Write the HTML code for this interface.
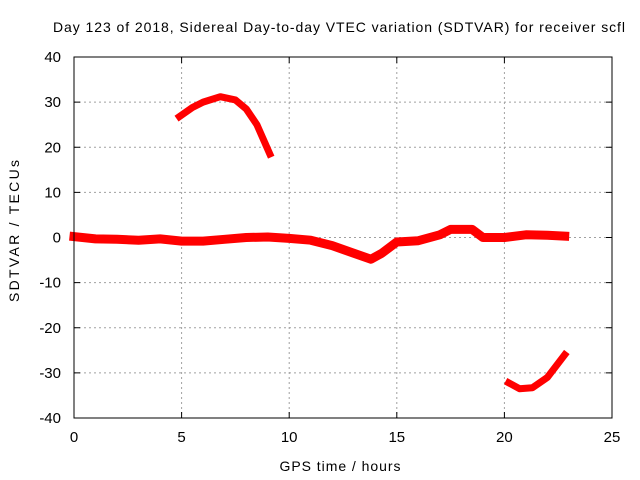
<!DOCTYPE html>
<html><head><meta charset="utf-8"><style>
body{margin:0;background:#fff}
svg{display:block;font-family:"Liberation Sans",sans-serif;font-size:14px}
</style></head><body>
<svg id="c" width="640" height="480">
<text x="339" y="32" text-anchor="middle" textLength="572" lengthAdjust="spacing">Day 123 of 2018, Sidereal Day-to-day VTEC variation (SDTVAR) for receiver scfl</text>
<text x="340" y="471" text-anchor="middle" textLength="121" lengthAdjust="spacing">GPS time / hours</text>
<text transform="translate(19,231) rotate(-90)" text-anchor="middle" textLength="142" lengthAdjust="spacing">SDTVAR / TECUs</text>
<g id="grid"></g><g id="axes"></g><g id="series"></g>
<rect x="74" y="57" width="538" height="361" fill="none" stroke="#000" stroke-width="1"/>
</svg>
<script>
const xTicks=[0,5,10,15,20,25];
const yTicks=[-40,-30,-20,-10,0,10,20,30,40];
const mainX=[0,1,2,3,4,5,6,7,8,9,10,11,12,13,13.8,14.3,15,16,17,17.5,18.5,19,20,21,22,22.8];
const mainY=[0.2,-0.3,-0.4,-0.6,-0.3,-0.8,-0.8,-0.4,0,0.1,-0.2,-0.6,-1.8,-3.5,-4.8,-3.5,-1,-0.7,0.6,1.8,1.8,0,0,0.6,0.5,0.3];
const upX=[4.9,5.5,6,6.8,7.5,8,8.5,9.1];
const upY=[26.8,28.8,30,31.2,30.5,28.5,25,18.5];
const lowX=[20.2,20.7,21.3,22,22.8];
const lowY=[-32.2,-33.5,-33.3,-31,-26];
const X=v=>74+v*(538/25), Y=v=>237.5-v*(361/80);
const NS="http://www.w3.org/2000/svg";
function mk(t,a,p){const e=document.createElementNS(NS,t);for(const k in a)e.setAttribute(k,a[k]);document.getElementById(p).appendChild(e);return e;}
xTicks.forEach(v=>{
 if(v>0&&v<25){const g=mk('line',{x1:X(v),x2:X(v),y1:57,y2:418,stroke:'#a0a0a0','stroke-dasharray':'2,3'},'grid');
 
 }
 mk('line',{x1:X(v),x2:X(v),y1:418,y2:412,stroke:'#000'},'axes');
 mk('line',{x1:X(v),x2:X(v),y1:57,y2:63,stroke:'#000'},'axes');
 const t=mk('text',{x:X(v),y:442,'text-anchor':'middle','font-size':'15'},'axes');t.textContent=v;
 
 
});
yTicks.forEach(v=>{
 if(v>-40&&v<40){const g=mk('line',{x1:74,x2:612,y1:Y(v),y2:Y(v),stroke:'#a0a0a0','stroke-dasharray':'2,3'},'grid');
 
 }
 mk('line',{x1:74,x2:80,y1:Y(v),y2:Y(v),stroke:'#000'},'axes');
 mk('line',{x1:606,x2:612,y1:Y(v),y2:Y(v),stroke:'#000'},'axes');
 const t=mk('text',{x:61,y:Y(v)+5,'text-anchor':'end','font-size':'15'},'axes');t.textContent=v;
 
 
});
function series(xs,ys,name,w){
 const d=xs.map((x,i)=>(i?'L':'M')+X(x).toFixed(1)+','+Y(ys[i]).toFixed(1)).join('');
 const p=mk('path',{d:d,fill:'none',stroke:'#ff0000','stroke-width':w,'stroke-linejoin':'round','stroke-linecap':'square'},'series');
 
 
}
series(mainX,mainY,'series-main',9);
series(upX,upY,'series-upper-arc',7);
series(lowX,lowY,'series-lower-arc',7);
</script>
</body></html>
